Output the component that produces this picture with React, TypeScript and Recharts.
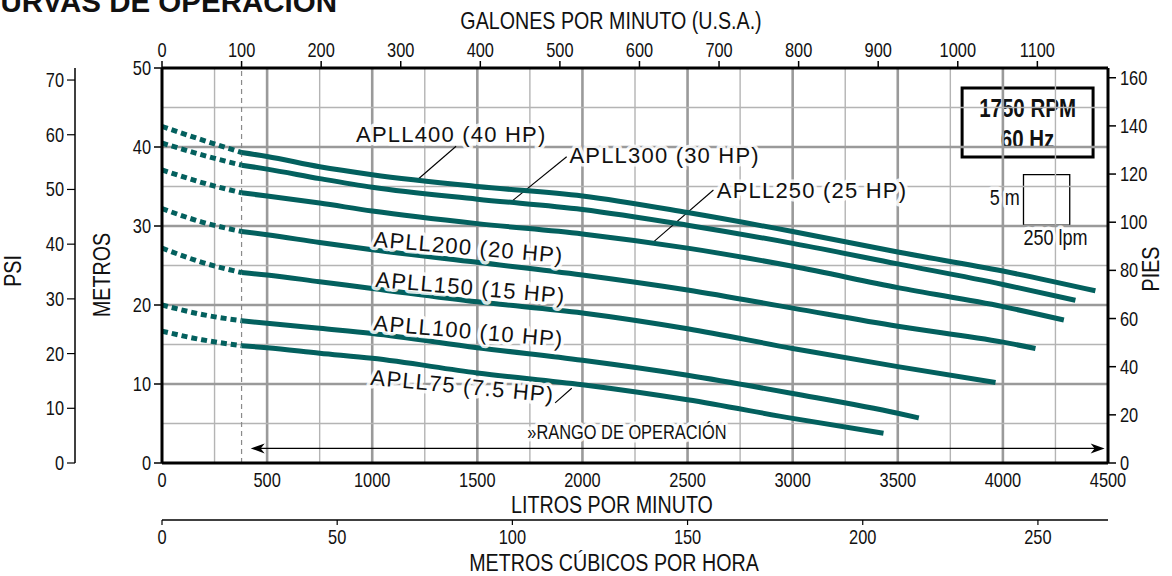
import React from "react";
import { LineChart, Line, XAxis, YAxis, ReferenceLine, ReferenceDot, ReferenceArea } from "recharts";

const SANS = '"Liberation Sans", Arial, sans-serif';
const TEAL = "#03605e";
const NARROW_X = 0.82; // Arial Narrow look: Liberation Sans squeezed horizontally

// caudal en L/min, altura en metros
const qLow = [0, 190, 378.5];

const apll400Low = [42.6, 40.9, 39.3];
const apll400Q = [378.5, 500, 750, 1000, 1500, 2000, 2500, 3000, 3500, 4000, 4440];
const apll400H = [39.3, 38.8, 37.5, 36.5, 35.0, 33.8, 31.7, 29.3, 26.7, 24.3, 21.8];

const apll300Low = [40.5, 39.0, 37.7];
const apll300Q = [378.5, 500, 750, 1000, 1500, 2000, 2500, 3000, 3500, 4000, 4345];
const apll300H = [37.7, 37.2, 36.0, 34.9, 33.4, 32.1, 30.1, 27.8, 25.2, 22.6, 20.6];

const apll250Low = [37.1, 35.5, 34.2];
const apll250Q = [378.5, 500, 750, 1000, 1500, 2000, 2500, 3000, 3500, 4000, 4290];
const apll250H = [34.2, 33.8, 32.9, 31.9, 30.3, 29.0, 27.2, 24.9, 22.2, 19.8, 18.1];

const apll200Low = [32.2, 30.5, 29.3];
const apll200Q = [378.5, 500, 750, 1000, 1500, 2000, 2500, 3000, 3500, 4000, 4155];
const apll200H = [29.3, 28.9, 27.9, 27.0, 25.4, 23.8, 21.9, 19.6, 17.3, 15.3, 14.5];

const apll150Low = [27.2, 25.4, 24.1];
const apll150Q = [378.5, 500, 750, 1000, 1500, 2000, 2500, 3000, 3500, 3965];
const apll150H = [24.1, 23.8, 22.95, 22.1, 20.4, 19.0, 17.0, 14.5, 12.2, 10.2];

const apll100Low = [20.0, 18.8, 18.0];
const apll100Q = [378.5, 500, 750, 1000, 1500, 2000, 2500, 3000, 3500, 3600];
const apll100H = [18.0, 17.7, 17.05, 16.4, 14.6, 13.0, 11.1, 8.8, 6.3, 5.7];

const apll75Low = [16.7, 15.6, 14.85];
const apll75Q = [378.5, 500, 750, 1000, 1500, 2000, 2500, 3000, 3432];
const apll75H = [14.85, 14.6, 13.9, 13.25, 11.4, 9.9, 8.0, 5.65, 3.76];

const models = ["APLL400 (40 HP)", "APLL300 (30 HP)", "APLL250 (25 HP)", "APLL200 (20 HP)", "APLL150 (15 HP)", "APLL100 (10 HP)", "APLL75 (7.5 HP)"];

// ejes
const LPM_MAX = 4500;
const GPM_MAX = LPM_MAX / 3.78541;
const M3H_MAX = (LPM_MAX * 60) / 1000;
const lpmTicks = [0, 500, 1000, 1500, 2000, 2500, 3000, 3500, 4000, 4500];
const gpmTicks = [0, 100, 200, 300, 400, 500, 600, 700, 800, 900, 1000, 1100];
const m3hTicks = [0, 50, 100, 150, 200, 250];
const meterTicks = [0, 10, 20, 30, 40, 50];
const psiTicks = [0, 10, 20, 30, 40, 50, 60, 70];
const feetTicks = [0, 20, 40, 60, 80, 100, 120, 140, 160];
const gridQ = [250, 500, 750, 1000, 1250, 1500, 1750, 2000, 2250, 2500, 2750, 3000, 3250, 3500, 3750, 4000, 4250];
const gridH = [5, 10, 15, 20, 25, 30, 35, 40, 45];

// extremos de caudal en las tres unidades (para que los ejes secundarios tengan datos)
const flowSpan = [
  { q: 0, g: 0, c: 0 },
  { q: LPM_MAX, g: GPM_MAX, c: M3H_MAX },
];

const pts = (q: number[], h: number[]) => q.map((v, i) => ({ q: v, h: h[i] }));

const curves = [
  { low: pts(qLow, apll400Low), main: pts(apll400Q, apll400H) },
  { low: pts(qLow, apll300Low), main: pts(apll300Q, apll300H) },
  { low: pts(qLow, apll250Low), main: pts(apll250Q, apll250H) },
  { low: pts(qLow, apll200Low), main: pts(apll200Q, apll200H) },
  { low: pts(qLow, apll150Low), main: pts(apll150Q, apll150H) },
  { low: pts(qLow, apll100Low), main: pts(apll100Q, apll100H) },
  { low: pts(qLow, apll75Low), main: pts(apll75Q, apll75H) },
];

// posición de las etiquetas (inicio de la línea base, en L/min y m)
const labelPlace = [
  { q: 923, h: 40.67, rot: 0 },
  { q: 1938, h: 38.0, rot: 0 },
  { q: 2639, h: 33.6, rot: 0 },
  { q: 1004, h: 27.4, rot: 5 },
  { q: 1013, h: 22.3, rot: 5 },
  { q: 1004, h: 16.8, rot: 5 },
  { q: 990, h: 9.9, rot: 5.5 },
];

const leaders = [
  [{ x: 1399, y: 40.1 }, { x: 1219, y: 35.95 }],
  [{ x: 1925, y: 38.77 }, { x: 1656, y: 32.95 }],
  [{ x: 2623, y: 34.56 }, { x: 2330, y: 27.8 }],
  [{ x: 1870, y: 7.6 }, { x: 1949, y: 9.46 }],
];

const NText = ({ x, y, anchor = "middle", size = 20, bold = false, rot = 0, halo = false, sx = NARROW_X, children }: any) => (
  <text
    transform={`translate(${x} ${y})${rot ? ` rotate(${rot})` : ""} scale(${sx} 1)`}
    textAnchor={anchor}
    fontFamily={SANS}
    fontSize={size}
    fontWeight={bold ? "bold" : "normal"}
    fill="#111"
    stroke={halo ? "#fff" : "none"}
    strokeWidth={halo ? 7 : 0}
    strokeOpacity={0.85}
    paintOrder="stroke"
    strokeLinejoin="round"
  >
    {children}
  </text>
);

const tickText = (anchor: string, dx: number, dy: number, size = 20) => (p: any) => (
  <NText x={p.x + dx} y={p.y + dy} anchor={anchor} size={size}>
    {p.payload.value}
  </NText>
);

const vTitle = (text: string, cx: number, cy: number) => () => (
  <NText x={cx} y={cy} rot={-90} size={24}>
    {text}
  </NText>
);

const hTitle = (text: string, cx: number, base: number) => () => (
  <NText x={cx} y={base} size={24}>
    {text}
  </NText>
);

const topTitles = () => (
  <g>
    <NText x={337} y={12} anchor="end" size={29.5} bold sx={1}>
      CURVAS DE OPERACIÓN
    </NText>
    <NText x={611} y={29} size={24}>
      GALONES POR MINUTO (U.S.A.)
    </NText>
  </g>
);

const rpmBox = (p: any) => {
  const vb = p.viewBox;
  const cx = vb.x + vb.width / 2;
  return (
    <g>
      <NText x={cx} y={vb.y + 29} size={25} bold>1750 RPM</NText>
      <NText x={cx} y={vb.y + 60} size={25} bold>60 Hz</NText>
    </g>
  );
};

const arrowShape = (p: any) => {
  const { x1, y1, x2 } = p;
  const a = Math.min(x1, x2);
  const b = Math.max(x1, x2);
  const y = y1;
  return (
    <g>
      <line x1={a + 6} y1={y} x2={b - 6} y2={y} stroke="#000" strokeWidth={1.2} />
      <polygon points={`${a},${y} ${a + 14},${y - 5} ${a + 10},${y} ${a + 14},${y + 5}`} fill="#000" />
      <polygon points={`${b},${y} ${b - 14},${y - 5} ${b - 10},${y} ${b - 14},${y + 5}`} fill="#000" />
    </g>
  );
};

const narrowShape = (text: string, size: number, anchor = "start") => (p: any) => (
  <NText x={p.cx} y={p.cy} anchor={anchor} size={size} halo>
    {text}
  </NText>
);

const labelShape = (text: string, rot: number) => (p: any) => (
  <text
    x={p.cx}
    y={p.cy}
    transform={rot ? `rotate(${rot} ${p.cx} ${p.cy})` : undefined}
    fontFamily={SANS}
    fontSize={22}
    letterSpacing={1.2}
    fill="#111"
    stroke="#fff"
    strokeWidth={7}
    strokeOpacity={0.85}
    paintOrder="stroke"
    strokeLinejoin="round"
  >
    {text}
  </text>
);

export default function App() {
  return (
    <div style={{ width: 1172, height: 576, background: "#fff" }}>
      <style>{"body{margin:0}"}</style>
      <LineChart width={1172} height={576} data={flowSpan} margin={{ top: 0, right: 0, bottom: 0, left: 0 }}>
        <XAxis
          xAxisId="lpm"
          type="number"
          dataKey="q"
          orientation="bottom"
          domain={[0, LPM_MAX]}
          allowDataOverflow
          ticks={lpmTicks}
          interval={0}
          height={57}
          tickLine={false}
          tickSize={0}
          tickMargin={0}
          axisLine={{ stroke: "#000", strokeWidth: 3 }}
          tick={tickText("middle", 0, 24)}
          label={hTitle("LITROS POR MINUTO", 612, 513)}
        />
        <XAxis
          xAxisId="m3h"
          type="number"
          dataKey="c"
          orientation="bottom"
          domain={[0, M3H_MAX]}
          allowDataOverflow
          ticks={m3hTicks}
          interval={0}
          height={56}
          tickSize={5}
          tickMargin={0}
          axisLine={{ stroke: "#000", strokeWidth: 1.5 }}
          tickLine={{ stroke: "#000", strokeWidth: 1.2 }}
          tick={tickText("middle", 0, 19)}
          label={hTitle("METROS CÚBICOS POR HORA", 614, 571)}
        />
        <XAxis
          xAxisId="gpm"
          type="number"
          dataKey="g"
          orientation="top"
          domain={[0, GPM_MAX]}
          allowDataOverflow
          ticks={gpmTicks}
          interval={0}
          height={68}
          tickSize={7}
          tickMargin={4}
          axisLine={{ stroke: "#000", strokeWidth: 3 }}
          tickLine={{ stroke: "#000", strokeWidth: 1.5 }}
          tick={tickText("middle", 0, 0)}
          label={topTitles}
        />
        <YAxis
          yAxisId="m"
          orientation="left"
          domain={[0, 50]}
          allowDataOverflow
          ticks={meterTicks}
          interval={0}
          width={87}
          tickSize={8}
          tickMargin={3}
          axisLine={{ stroke: "#000", strokeWidth: 3 }}
          tickLine={{ stroke: "#000", strokeWidth: 1.5 }}
          tick={tickText("end", 0, 7)}
          label={vTitle("METROS", 110, 275)}
        />
        <YAxis
          yAxisId="psi"
          orientation="left"
          domain={[0, 72.2]}
          allowDataOverflow
          ticks={psiTicks}
          interval={0}
          width={75}
          tickSize={8}
          tickMargin={3}
          axisLine={{ stroke: "#000", strokeWidth: 1.5 }}
          tickLine={{ stroke: "#000", strokeWidth: 1.2 }}
          tick={tickText("end", 0, 7)}
          label={vTitle("PSI", 21, 271)}
        />
        <YAxis
          yAxisId="ft"
          orientation="right"
          domain={[0, 50 / 0.3048]}
          allowDataOverflow
          ticks={feetTicks}
          interval={0}
          width={64}
          tickSize={8}
          tickMargin={4}
          axisLine={{ stroke: "#000", strokeWidth: 3 }}
          tickLine={{ stroke: "#000", strokeWidth: 1.5 }}
          tick={tickText("start", 0, 7)}
          label={vTitle("PIES", 1159, 269)}
        />

        {gridQ.map((v) => (
          <ReferenceLine key={"gx" + v} xAxisId="lpm" yAxisId="m" x={v}
            stroke={v % 500 === 0 ? "#9a9a9a" : "#b4b4b4"} strokeWidth={v % 500 === 0 ? 2.6 : 1.4} />
        ))}
        {gridH.map((v) => (
          <ReferenceLine key={"gy" + v} xAxisId="lpm" yAxisId="m" y={v}
            stroke={v % 10 === 0 ? "#9a9a9a" : "#b4b4b4"} strokeWidth={v % 10 === 0 ? 2.6 : 1.4} />
        ))}
        <ReferenceLine xAxisId="lpm" yAxisId="m" x={378.5} stroke="#8a8a8a" strokeWidth={1.2} strokeDasharray="5 4" />

        <ReferenceArea xAxisId="lpm" yAxisId="m" x1={3915} x2={4440} y1={26.5} y2={38.6} fill="#fff" fillOpacity={0.8} stroke="none" />
        <ReferenceArea xAxisId="lpm" yAxisId="m" x1={4098} x2={4318} y1={30.1} y2={36.5} fill="none" stroke="#000" strokeWidth={1.3} />
        <ReferenceDot xAxisId="lpm" yAxisId="m" x={4080} y={32.7} r={0} shape={narrowShape("5 m", 22, "end")} />
        <ReferenceDot xAxisId="lpm" yAxisId="m" x={4098} y={27.6} r={0} shape={narrowShape("250 lpm", 22, "start")} />

        <ReferenceArea xAxisId="lpm" yAxisId="m" x1={3806} x2={4429} y1={38.73} y2={47.47} fill="#fff" fillOpacity={1} stroke="#000" strokeWidth={3} label={rpmBox} />

        <ReferenceDot xAxisId="lpm" yAxisId="m" x={2212} y={3.0} r={0} shape={narrowShape("»RANGO DE OPERACIÓN", 20, "middle")} />
        <ReferenceLine xAxisId="lpm" yAxisId="m" segment={[{ x: 422, y: 1.85 }, { x: 4484, y: 1.85 }]} shape={arrowShape} />

        {leaders.map((s, i) => (
          <ReferenceLine key={"ld" + i} xAxisId="lpm" yAxisId="m" segment={s} stroke="#000" strokeWidth={1.1} />
        ))}
        {labelPlace.map((l, i) => (
          <ReferenceDot key={"lb" + i} xAxisId="lpm" yAxisId="m" x={l.q} y={l.h} r={0}
            shape={labelShape(models[i], l.rot)} />
        ))}

        {curves.map((c, i) => (
          <Line key={"lo" + i} xAxisId="lpm" yAxisId="m" data={c.low} dataKey="h" type="monotone"
            stroke={TEAL} strokeWidth={5} strokeDasharray="6 4" dot={false} activeDot={false} isAnimationActive={false} />
        ))}
        {curves.map((c, i) => (
          <Line key={"mn" + i} xAxisId="lpm" yAxisId="m" data={c.main} dataKey="h" type="monotone"
            stroke={TEAL} strokeWidth={5} dot={false} activeDot={false} isAnimationActive={false} />
        ))}
      </LineChart>
    </div>
  );
}
